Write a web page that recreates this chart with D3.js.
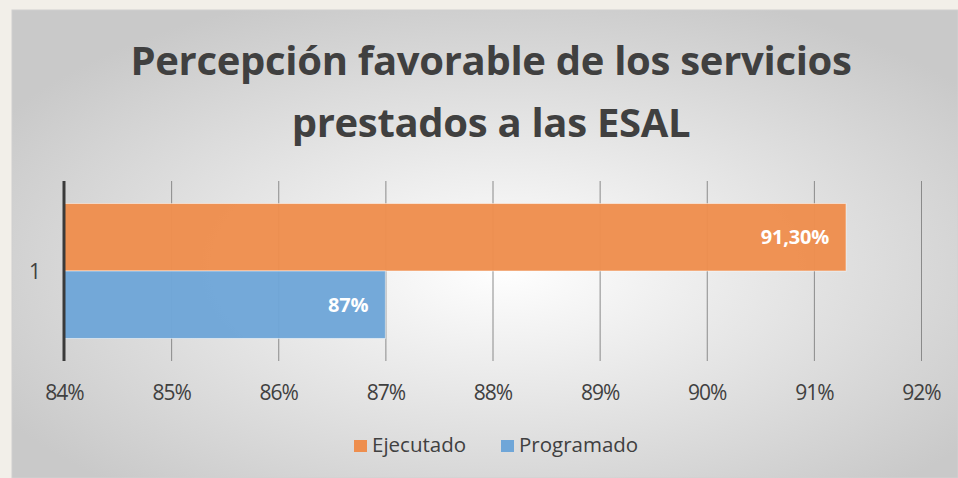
<!DOCTYPE html>
<html>
<head>
<meta charset="utf-8">
<script src="https://cdn.jsdelivr.net/npm/d3@7"></script>
<style>
  body { margin: 0; background: #f2efe9; }
  svg { display: block; font-family: "Open Sans", "Noto Sans", sans-serif; }
</style>
</head>
<body>
<div id="chart"></div>
<script>
// DATA
const categories = ["1"];
const seriesNames = ["Ejecutado", "Programado"];
const ejecutado = [91.3];
const programado = [87];
const valueLabels = { Ejecutado: ["91,30%"], Programado: ["87%"] };
const xTicks = [84, 85, 86, 87, 88, 89, 90, 91, 92];
const titleLines = ["Percepción favorable de los servicios", "prestados a las ESAL"];

const W = 958, H = 478;
const colors = { Ejecutado: "#ee8e4e", Programado: "#6fa6d8" };

const svg = d3.select("#chart").append("svg")
    .attr("width", W)
    .attr("height", H);

// background gradient of the chart area
const defs = svg.append("defs");
const grad = defs.append("radialGradient")
    .attr("id", "bg")
    .attr("cx", "52%").attr("cy", "55%").attr("r", "62%");
grad.append("stop").attr("offset", "0%").attr("stop-color", "#ffffff");
grad.append("stop").attr("offset", "100%").attr("stop-color", "#c9c9c9");

svg.append("rect")
    .attr("x", 12).attr("y", 10)
    .attr("width", W - 12).attr("height", H - 10)
    .attr("fill", "url(#bg)")
    .attr("stroke", "#d0d0d0");

// TITLE
svg.append("g").selectAll("text")
    .data(titleLines).enter().append("text")
    .attr("x", 491)
    .attr("y", (d, i) => 75 + i * 62)
    .attr("text-anchor", "middle")
    .attr("font-size", 40)
    .attr("font-weight", "bold")
    .attr("fill", "#404040")
    .style("letter-spacing", "-0.3px")
    .text(d => d);

// SCALES
const margin = { top: 181, bottom: 361, left: 64, right: 921 };
const x = d3.scaleLinear()
    .domain([xTicks[0], xTicks[xTicks.length - 1]])
    .range([margin.left, margin.right]);

const y0 = d3.scaleBand()
    .domain(categories)
    .range([margin.top, margin.bottom])
    .paddingInner(0).paddingOuter(0.167);

const y1 = d3.scaleBand()
    .domain(seriesNames)
    .range([0, y0.bandwidth()]);

// GRID
svg.append("g")
    .attr("transform", "translate(0," + margin.bottom + ")")
    .call(d3.axisBottom(x).tickValues(xTicks)
        .tickSize(-(margin.bottom - margin.top))
        .tickFormat(d => d + "%"))
    .call(g => g.select(".domain").remove())
    .call(g => g.selectAll(".tick line").attr("stroke", "#8a8a8a").attr("stroke-width", 1))
    .call(g => g.selectAll(".tick text")
        .attr("dy", 0).attr("y", 39)
        .attr("font-size", 21)
        .attr("fill", "#404040")
        .attr("font-family", "\"Open Sans\", sans-serif")
        .style("letter-spacing", "-1px"));

// BARS
const rows = seriesNames.map(name => ({
    name: name,
    values: name === "Ejecutado" ? ejecutado : programado
}));

const catG = svg.selectAll(".cat")
    .data(categories).enter().append("g")
    .attr("class", "cat")
    .attr("transform", d => "translate(0," + y0(d) + ")");

catG.selectAll("rect")
    .data((c, ci) => rows.map(r => ({ name: r.name, value: r.values[ci], label: valueLabels[r.name][ci] })))
    .enter().append("rect")
    .attr("x", x(xTicks[0]))
    .attr("y", d => y1(d.name))
    .attr("width", d => x(d.value) - x(xTicks[0]))
    .attr("height", y1.bandwidth())
    .attr("fill", d => colors[d.name])
    .attr("fill-opacity", 0.97)
    .attr("stroke", "#ffffff")
    .attr("stroke-opacity", 0.5)
    .attr("stroke-width", 1);

catG.selectAll(".lbl")
    .data((c, ci) => rows.map(r => ({ name: r.name, value: r.values[ci], label: valueLabels[r.name][ci] })))
    .enter().append("text")
    .attr("class", "lbl")
    .attr("x", d => x(d.value) - 17)
    .attr("y", d => y1(d.name) + y1.bandwidth() / 2 + 7)
    .attr("text-anchor", "end")
    .attr("font-size", 20)
    .attr("font-weight", "bold")
    .attr("fill", "#ffffff")
    .style("letter-spacing", "-0.2px")
    .text(d => d.label);

// LEFT AXIS
svg.append("line")
    .attr("x1", margin.left).attr("x2", margin.left)
    .attr("y1", margin.top).attr("y2", margin.bottom)
    .attr("stroke", "#3a3a3a")
    .attr("stroke-width", 3);

svg.selectAll(".catlbl")
    .data(categories).enter().append("text")
    .attr("class", "catlbl")
    .attr("x", 35)
    .attr("y", d => y0(d) + y0.bandwidth() / 2 + 8)
    .attr("text-anchor", "middle")
    .attr("font-size", 21)
    .attr("fill", "#404040")
    .text(d => d);

// LEGEND
const legend = svg.append("g").attr("transform", "translate(354,446)");
const legX = [0, 147];
const item = legend.selectAll("g")
    .data(seriesNames).enter().append("g")
    .attr("transform", (d, i) => "translate(" + legX[i] + ",0)");
item.append("rect")
    .attr("x", 0).attr("y", -6)
    .attr("width", 13).attr("height", 12)
    .attr("fill", d => colors[d]);
item.append("text")
    .attr("x", 18).attr("y", 6)
    .attr("font-size", 20.5)
    .attr("fill", "#404040")
    .text(d => d);
</script>
</body>
</html>
